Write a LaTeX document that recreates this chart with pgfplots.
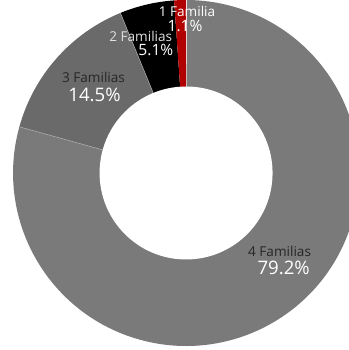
\documentclass[border=0pt]{standalone}
\usepackage{pgfplots}
\pgfplotsset{compat=1.18}
\usepackage{fontspec}
\setmainfont{Open Sans}
\definecolor{cRed}{HTML}{B00000}
\definecolor{cBlack}{HTML}{000000}
\definecolor{cDark}{HTML}{6A6A6A}
\definecolor{cMid}{HTML}{7A7A7A}
\definecolor{cSep}{HTML}{A8A8A8}
% data: share of households (percent)
\def\vA{1.1}
\def\vB{5.1}
\def\vC{14.5}
\def\vD{79.2}
\pgfmathsetmacro\aA{90}
\pgfmathsetmacro\aB{\aA+3.6*\vA}
\pgfmathsetmacro\aC{\aB+3.6*\vB}
\pgfmathsetmacro\aD{\aC+3.6*\vC}
\pgfmathsetmacro\aE{\aD+3.6*\vD}
\def\R{172pt}
\def\r{86pt}
\begin{document}
\begin{tikzpicture}
\begin{axis}[
  hide axis, scale only axis,
  x=1pt, y=1pt,
  xmin=0, xmax=347, ymin=0, ymax=350,
  clip=true,
]
\fill[cMid] (axis cs:185,176) -- ++(\aD:\R) arc[start angle=\aD, end angle=\aE, radius=\R] -- cycle;
\fill[cDark] (axis cs:185,176) -- ++(\aC:\R) arc[start angle=\aC, end angle=\aD, radius=\R] -- cycle;
\fill[cBlack] (axis cs:185,176) -- ++(\aB:\R) arc[start angle=\aB, end angle=\aC, radius=\R] -- cycle;
\fill[cRed] (axis cs:185,176) -- ++(\aA:\R) arc[start angle=\aA, end angle=\aB, radius=\R] -- cycle;
\draw[cSep, line width=0.6pt] (axis cs:185,176) -- ++(\aC:\R);
\draw[cSep, line width=0.6pt] (axis cs:185,176) -- ++(\aD:\R);
\fill[white] (axis cs:185,176) circle[radius=\r];
\begin{scope}[every node/.style={inner sep=0pt}]
\node[white, font=\fontsize{13.5}{13.5}\selectfont] at (axis cs:186,337) {1 Familia};
\node[white, font=\fontsize{15.5}{15.5}\selectfont] at (axis cs:184,322.5) {1.1\%};
\node[white!88!black, font=\fontsize{13.5}{13.5}\selectfont] at (axis cs:140,312) {2 Familias};
\node[white, font=\fontsize{15.5}{15.5}\selectfont] at (axis cs:155,298) {5.1\%};
\node[black!85, font=\fontsize{13.5}{13.5}\selectfont] at (axis cs:93,271) {3 Familias};
\node[white, font=\fontsize{18.5}{18.5}\selectfont] at (axis cs:94,254) {14.5\%};
\node[black!85, font=\fontsize{13.5}{13.5}\selectfont] at (axis cs:278,98) {4 Familias};
\node[white, font=\fontsize{18.5}{18.5}\selectfont] at (axis cs:282,82) {79.2\%};
\end{scope}
\end{axis}
\end{tikzpicture}
\end{document}
